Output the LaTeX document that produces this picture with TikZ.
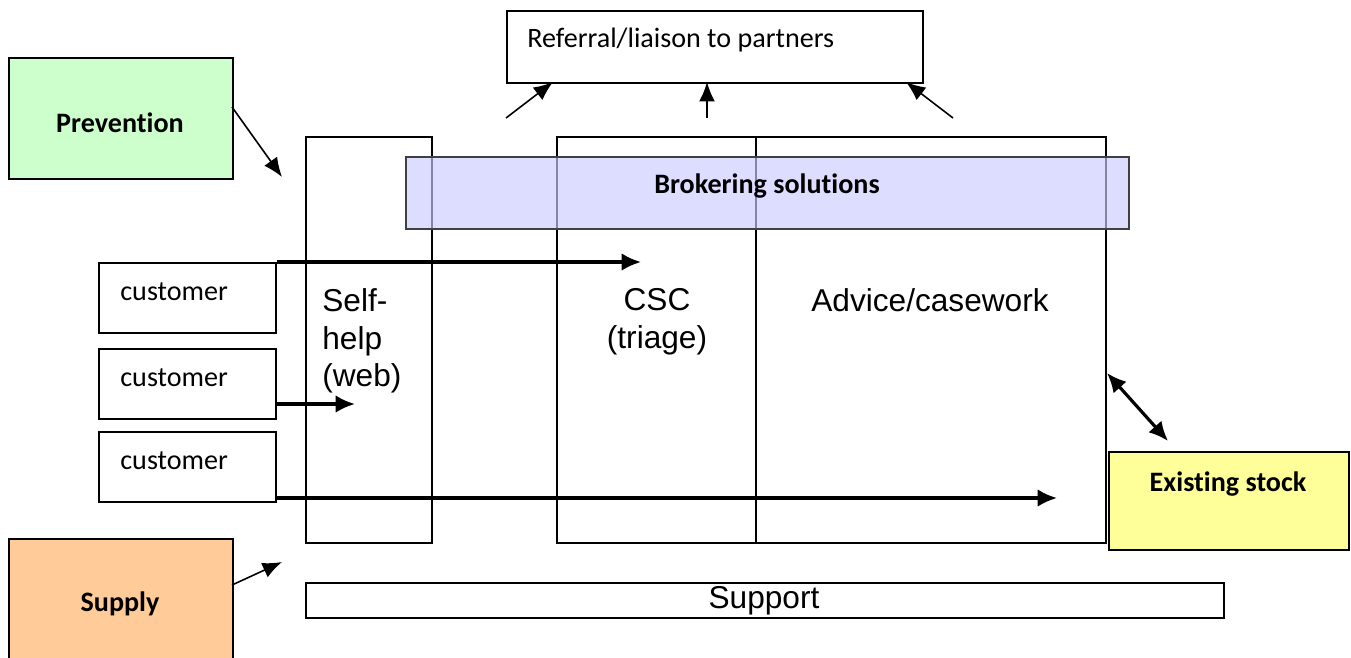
\documentclass[tikz,border=0pt]{standalone}
\usepackage{fontspec}
\setmainfont{Carlito}[Ligatures=NoCommon]
\newfontfamily\arialf{Liberation Sans}
\usetikzlibrary{arrows.meta}
\definecolor{prevg}{HTML}{CCFFCC}
\definecolor{suppo}{HTML}{FFCC99}
\definecolor{stocky}{HTML}{FFFF99}
\definecolor{brokb}{HTML}{CCCCFF}
\tikzset{
  box/.style={draw=black, line width=1.1pt, rectangle, inner sep=0pt, anchor=north west},
  colbox/.style={box, line width=1.1pt},
  lbl/.style={font=\fontsize{16}{19}\selectfont\bfseries},
  cust/.style={box, minimum width=3.54cm, minimum height=1.4cm, text width=3.1cm, align=left, font=\fontsize{16}{19}\selectfont},
  thinarr/.style={line width=0.9pt, -{Latex[length=11pt,width=9pt]}},
  thickarr/.style={line width=1.8pt, -{Latex[length=11pt,width=10pt]}},
  arialtxt/.style={font=\arialf\fontsize{18}{21.5}\selectfont, inner sep=0pt},
}
\begin{document}
\begin{tikzpicture}[x=0.02cm,y=-0.02cm]
\useasboundingbox (0,0) rectangle (1351,657);
\clip (0,0) rectangle (1351,657);
\fill[white] (0,0) rectangle (1351,657);
% referral
\node[box, minimum width=8.32cm, minimum height=1.44cm] (ref) at (506,10) {};
\node[anchor=west, inner sep=0pt, font=\fontsize{16}{19}\selectfont] (reft) at (527,40) {Referral/liaison to partners};
% prevention
\node[box, fill=prevg, minimum width=4.48cm, minimum height=2.42cm] (prev) at (8,57) {};
\node[lbl, inner sep=0pt] (prevt) at (120,123) {Prevention};
% columns
\node[colbox, minimum width=2.52cm, minimum height=8.12cm] (self) at (305,136) {};
\node[colbox, minimum width=3.98cm, minimum height=8.12cm] (csc) at (556,136) {};
\node[colbox, minimum width=7.0cm, minimum height=8.12cm] (adv) at (755,136) {};
% brokering
\node[box, draw=black!75, fill=brokb, fill opacity=0.65, minimum width=14.46cm, minimum height=1.44cm] (brok) at (405,156) {};
\node[lbl, inner sep=0pt] (brokt) at (767,186) {Brokering solutions};
% column texts
\node[arialtxt, anchor=north west, align=left] (selft) at (322,288) {Self-\\help\\(web)};
\node[arialtxt, anchor=north, align=center] (csct) at (657,288) {CSC\\(triage)};
\node[arialtxt, anchor=north] (advt) at (930,288) {Advice/casework};
% customers
\node[cust] (c1) at (98,262) {};
\node[cust] (c2) at (98,348) {};
\node[cust] (c3) at (98,431) {};
\node[anchor=west, inner sep=0pt, font=\fontsize{16}{19}\selectfont] (c1t) at (120,292) {customer};
\node[anchor=west, inner sep=0pt, font=\fontsize{16}{19}\selectfont] (c2t) at (120,378) {customer};
\node[anchor=west, inner sep=0pt, font=\fontsize{16}{19}\selectfont] (c3t) at (120,461) {customer};
% existing stock
\node[box, fill=stocky, minimum width=4.8cm, minimum height=1.96cm] (stock) at (1108,451) {};
\node[lbl, inner sep=0pt] (stockt) at (1228,484) {Existing stock};
% supply
\node[box, fill=suppo, minimum width=4.48cm, minimum height=2.6cm] (sup) at (8,538) {};
\node[lbl, inner sep=0pt] (supt) at (120,604) {Supply};
% support
\node[box, minimum width=18.36cm, minimum height=0.7cm] (supp) at (305,582) {};
\node[arialtxt] (suppt) at (764,601) {Support};
% coordinates
\coordinate (pe) at (282,177);
\coordinate (se) at (282,562);
\coordinate (s1) at (506,118);
\coordinate (e1) at (553,82);
\coordinate (s2) at (707,118);
\coordinate (e2) at (707,82);
\coordinate (s3) at (953,118);
\coordinate (e3) at (906,82);
\coordinate (a1) at (641,262);
\coordinate (a2) at (355,404);
\coordinate (a3) at (1057,498);
\coordinate (d1) at (1107,373);
\coordinate (d2) at (1168,441);
\coordinate (p0) at (232,107);
\coordinate (q0) at (232,585);
% arrows
\draw[thinarr] (p0) -- (pe);
\draw[thinarr] (q0) -- (se);
\draw[thinarr] (s1) -- (e1);
\draw[thinarr] (s2) -- (e2);
\draw[thinarr] (s3) -- (e3);
\draw[thickarr] (c1.north east) -- (a1);
\draw[thickarr] (c2.east |- a2) -- (a2);
\draw[thickarr] (c3.east |- a3) -- (a3);
\draw[line width=1.8pt, {Latex[length=11pt,width=10pt]}-{Latex[length=11pt,width=10pt]}] (d1) -- (d2);
\end{tikzpicture}
\end{document}
